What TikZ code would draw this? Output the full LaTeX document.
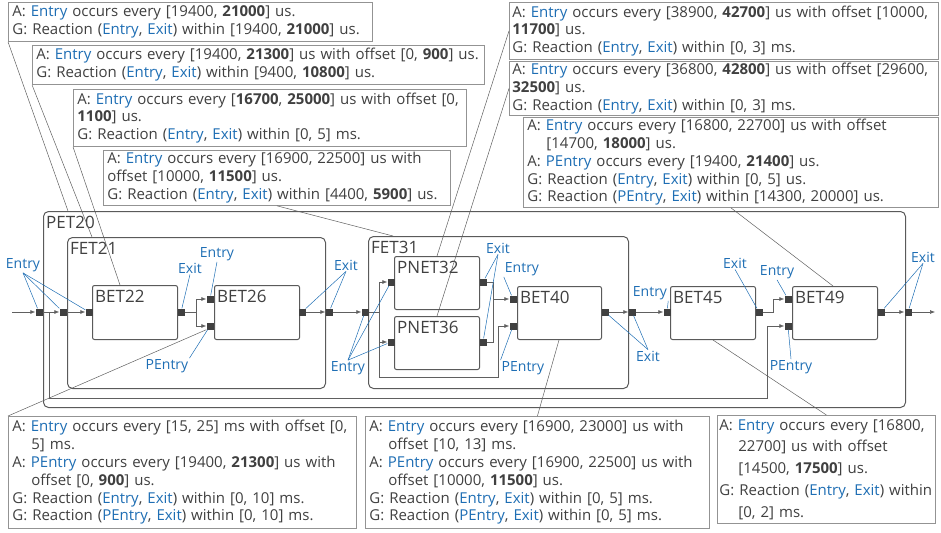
\documentclass[tikz,border=0pt]{standalone}
\usepackage{fontspec}
\setmainfont{Open Sans}
\usetikzlibrary{arrows.meta, positioning}

\definecolor{pblue}{RGB}{30,110,180}
\definecolor{ink}{RGB}{64,64,64}
\definecolor{edge}{RGB}{90,90,90}
\newcommand{\pEn}{\textcolor{pblue}{Entry}}
\newcommand{\pEx}{\textcolor{pblue}{Exit}}
\newcommand{\pPEn}{\textcolor{pblue}{PEntry}}
\newcommand{\indA}{\hspace*{19pt}}

\begin{document}
\begin{tikzpicture}[
    x=1pt, y=-1pt,
    every node/.style={text=ink},
    note/.style={draw=gray!85, fill=white, anchor=north west, align=left, inner xsep=4pt, inner ysep=0pt, line width=0.8pt, font=\fontsize{15}{17.8}\selectfont},
    cont/.style={draw=edge, rounded corners=5pt, anchor=north west, inner sep=0pt, line width=1pt},
    blk/.style={draw=edge, fill=white, rounded corners=2pt, anchor=north west, inner sep=0pt, line width=1pt},
    elbl/.style={anchor=north west, inner xsep=3pt, inner ysep=5pt, font=\fontsize{17}{20}\selectfont},
    port/.style={fill=ink, minimum size=7pt, inner sep=0pt},
    conn/.style={draw=gray!75!black, line width=0.6pt},
    arr/.style={conn, -{Latex[length=5pt,width=4pt]}},
    plbl/.style={text=pblue, inner sep=1pt, font=\fontsize{14}{16}\selectfont},
    plead/.style={draw=pblue, line width=0.5pt},
    lead/.style={draw=gray!75!black, line width=0.5pt}
]
\useasboundingbox (0,0) rectangle (941,532);

% containers and blocks
\node[cont, minimum width=862pt, minimum height=196pt, label={[elbl]north west:PET20}] (pet20) at (43,211) {};
\node[cont, minimum width=258pt, minimum height=151pt, label={[elbl]north west:FET21}] (fet21) at (67,237) {};
\node[cont, minimum width=260pt, minimum height=152pt, label={[elbl]north west:FET31}] (fet31) at (368,236) {};
\node[blk, minimum width=85pt, minimum height=54pt, label={[elbl]north west:BET22}] (bet22) at (92,285) {};
\node[blk, minimum width=85pt, minimum height=54pt, label={[elbl]north west:BET26}] (bet26) at (214,285) {};
\node[blk, minimum width=85pt, minimum height=53pt, label={[elbl]north west:PNET32}] (pnet32) at (394,256) {};
\node[blk, minimum width=85pt, minimum height=53pt, label={[elbl]north west:PNET36}] (pnet36) at (394,316) {};
\node[blk, minimum width=84pt, minimum height=53pt, label={[elbl]north west:BET40}] (bet40) at (517,286) {};
\node[blk, minimum width=85pt, minimum height=53pt, label={[elbl]north west:BET45}] (bet45) at (670,286) {};
\node[blk, minimum width=85pt, minimum height=53pt, label={[elbl]north west:BET49}] (bet49) at (792,286) {};

% ports
\node[port] (pet20in) at (39,312) {};
\node[port] (fet21in) at (63,312) {};
\node[port] (bet22in) at (89,312) {};
\node[port] (bet22out) at (181,312) {};
\node[port] (bet26in) at (210,299) {};
\node[port] (bet26pin) at (210,326) {};
\node[port] (bet26out) at (302,312) {};
\node[port] (fet21out) at (329,312) {};
\node[port] (fet31in) at (365,312) {};
\node[port] (pnet32in) at (391,282) {};
\node[port] (pnet36in) at (391,342) {};
\node[port] (pnet32out) at (483,282) {};
\node[port] (pnet36out) at (483,342) {};
\node[port] (bet40in) at (513,299) {};
\node[port] (bet40pin) at (513,326) {};
\node[port] (bet40out) at (605,312) {};
\node[port] (fet31out) at (632,312) {};
\node[port] (bet45in) at (667,312) {};
\node[port] (bet45out) at (759,312) {};
\node[port] (bet49in) at (788,299) {};
\node[port] (bet49pin) at (788,326) {};
\node[port] (bet49out) at (881,312) {};
\node[port] (pet20out) at (908,312) {};

% flow
\coordinate (src) at (12,312);
\coordinate (snk) at (935,312);
\coordinate (ja) at (49,312);
\coordinate (fbl) at (49,398);
\coordinate (fbr) at (767,398);
\coordinate (jb) at (196,312);
\coordinate (jc) at (379,312);
\coordinate (jcl) at (379,377);
\coordinate (jcr) at (498,377);
\coordinate (jd) at (493,299);
\coordinate (je) at (773,312);
\draw[arr] (src) -- (pet20in);
\draw[arr] (pet20in) -- (fet21in);
\draw[arr] (fet21in) -- (bet22in);
\draw[arr] (ja) -- (fbl) -- (fbr) |- (bet49pin);
\draw[conn] (bet22out) -- (jb);
\draw[arr] (jb) |- (bet26in);
\draw[arr] (jb) |- (bet26pin);
\draw[arr] (bet26out) -- (fet21out);
\draw[arr] (fet21out) -- (fet31in);
\draw[conn] (fet31in) -- (jc) -- (jcl);
\draw[arr] (jc) |- (pnet32in);
\draw[arr] (jc) |- (pnet36in);
\draw[arr] (jcl) -- (jcr) |- (bet40pin);
\draw[conn] (pnet32out) -| (jd);
\draw[conn] (pnet36out) -| (jd);
\draw[arr] (jd) -- (bet40in);
\draw[arr] (bet40out) -- (fet31out);
\draw[arr] (fet31out) -- (bet45in);
\draw[arr] (bet45out) -- (je) |- (bet49in);
\draw[arr] (bet49out) -- (pet20out);
\draw[arr] (pet20out) -- (snk);

% port labels
\node[plbl] (le1) at (23,265) {Entry};
\node[plbl] (lx1) at (190,268) {Exit};
\node[plbl] (le2) at (217,254) {Entry};
\node[plbl] (lp1) at (167,366) {PEntry};
\node[plbl] (lx2) at (346,265) {Exit};
\node[plbl] (lx3) at (498,248) {Exit};
\node[plbl] (le3) at (348,368) {Entry};
\node[plbl] (le4) at (522,269) {Entry};
\node[plbl] (lp2) at (523,368) {PEntry};
\node[plbl] (le5) at (650,293) {Entry};
\node[plbl] (lx4) at (648,356) {Exit};
\node[plbl] (lx5) at (735,263) {Exit};
\node[plbl] (le6) at (777,272) {Entry};
\node[plbl] (lp3) at (791,367) {PEntry};
\node[plbl] (lx6) at (923,257) {Exit};
\foreach \p in {pet20in,fet21in,bet22in}
  \draw[plead] (le1.south) -- (\p);
\draw[plead] (lx1.south) -- (bet22out);
\draw[plead] (le2.south) -- (bet26in);
\draw[plead] (lp1.north east) -- (bet26pin);
\foreach \p in {bet26out,fet21out}
  \draw[plead] (lx2.south) -- (\p);
\foreach \p in {pnet32out,pnet36out}
  \draw[plead] (lx3.south) -- (\p);
\foreach \p in {fet31in,pnet32in,pnet36in}
  \draw[plead] (le3.north) -- (\p);
\draw[plead] (le4.south west) -- (bet40in);
\draw[plead] (lp2.north west) -- (bet40pin);
\draw[plead] (le5.south east) -- (bet45in);
\foreach \p in {bet40out,fet31out}
  \draw[plead] (lx4.north) -- (\p);
\draw[plead] (lx5.south) -- (bet45out);
\draw[plead] (le6.south) -- (bet49in);
\draw[plead] (lp3.north) -- (bet49pin);
\foreach \p in {bet49out,pet20out}
  \draw[plead] (lx6.south) -- (\p);

% annotations
\node[note, text width=356pt, minimum height=39pt] (t1) at (8,2) {A: \pEn{} occurs every [19400, \textbf{21000}] us.\\G: Reaction (\pEn, \pEx) within [19400, \textbf{21000}] us.};
\node[note, text width=444pt, minimum height=39pt] (t2) at (32,45) {A: \pEn{} occurs every [19400, \textbf{21300}] us with offset [0, \textbf{900}] us.\\G: Reaction (\pEn, \pEx) within [9400, \textbf{10800}] us.};
\node[note, text width=385pt, minimum height=57pt] (t3) at (73,89) {A: \pEn{} occurs every [\textbf{16700}, \textbf{25000}] us with offset [0,\\\textbf{1100}] us.\\G: Reaction (\pEn, \pEx) within [0, 5] ms.};
\node[note, text width=339pt, minimum height=55pt] (t4) at (103,150) {A: \pEn{} occurs every [16900, 22500] us with\\offset [10000, \textbf{11500}] us.\\G: Reaction (\pEn, \pEx) within [4400, \textbf{5900}] us.};
\node[note, text width=423pt, inner xsep=3pt, minimum height=57pt] (r1) at (509,2) {A: \pEn{} occurs every [38900, \textbf{42700}] us with offset [10000,\\\textbf{11700}] us.\\G: Reaction (\pEn, \pEx) within [0, 3] ms.};
\node[note, text width=423pt, inner xsep=3pt, minimum height=54pt] (r2) at (509,61) {A: \pEn{} occurs every [36800, \textbf{42800}] us with offset [29600,\\\textbf{32500}] us.\\G: Reaction (\pEn, \pEx) within [0, 3] ms.};
\node[note, text width=407pt, minimum height=90pt] (r3) at (523,117) {A: \pEn{} occurs every [16800, 22700] us with offset\\\indA[14700, \textbf{18000}] us.\\A: \pPEn{} occurs every [19400, \textbf{21400}] us.\\G: Reaction (\pEn, \pEx) within [0, 5] us.\\G: Reaction (\pPEn, \pEx) within [14300, 20000] us.};
\node[note, text width=340pt, minimum height=112pt] (b1) at (8,416) {A: \pEn{} occurs every [15, 25] ms with offset [0,\\\indA 5] ms.\\A: \pPEn{} occurs every [19400, \textbf{21300}] us with\\\indA offset [0, \textbf{900}] us.\\G: Reaction (\pEn, \pEx) within [0, 10] ms.\\G: Reaction (\pPEn, \pEx) within [0, 10] ms.};
\node[note, text width=336pt, minimum height=112pt] (b2) at (365,416) {A: \pEn{} occurs every [16900, 23000] us with\\\indA offset [10, 13] ms.\\A: \pPEn{} occurs every [16900, 22500] us with\\\indA offset [10000, \textbf{11500}] us.\\G: Reaction (\pEn, \pEx) within [0, 5] ms.\\G: Reaction (\pPEn, \pEx) within [0, 5] ms.};
\node[note, text width=214pt, inner xsep=2pt, minimum height=108pt, font=\fontsize{15}{21.7}\selectfont] (b3) at (717,415) {A: \pEn{} occurs every [16800,\\\indA 22700] us with offset\\\indA[14500, \textbf{17500}] us.\\G: Reaction (\pEn, \pEx) within\\\indA[0, 2] ms.};

% annotation leaders
\draw[lead] (t1.south west) -- ([xshift=25pt]pet20.north west);
\draw[lead] (t2.south west) -- ([xshift=25pt]fet21.north west);
\draw[lead] (t3.south west) -- ([xshift=28pt]bet22.north west);
\draw[lead] (t4.south) -- ([xshift=25pt]fet31.north west);
\draw[lead] (r1.west) -- ([xshift=43pt]pnet32.north west);
\draw[lead] (r2.west) -- ([xshift=43pt]pnet36.north west);
\draw[lead] (r3.south) -- ([xshift=41pt]bet49.north west);
\draw[lead] (b1.north west) -- (bet26pin.south west);
\draw[lead] (b2.north) -- ([xshift=42pt]bet40.south west);
\draw[lead] (b3.north) -- ([xshift=43pt]bet45.south west);
\end{tikzpicture}
\end{document}
